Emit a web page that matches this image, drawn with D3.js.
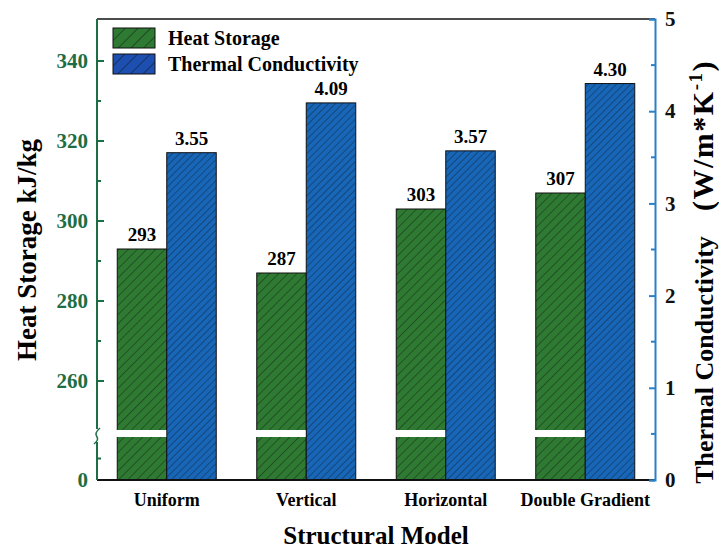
<!DOCTYPE html>
<meta charset="utf-8">
<style>
  body { margin: 0; background: #fff; }
  text { font-family: "Liberation Serif", "Times New Roman", serif; font-weight: bold; }
</style>
<svg width="719" height="550"></svg>
<script src="https://d3js.org/d3.v7.min.js"></script>
<script>

var models = ["Uniform", "Vertical", "Horizontal", "Double Gradient"];
var heatStorage = [293, 287, 303, 307];
var conductivity = [3.55, 4.09, 3.57, 4.30];
var leftTicks = [260, 280, 300, 320, 340];
var leftMinor = [270, 290, 310, 330];
var rightTicks = [0, 1, 2, 3, 4, 5];
var rightMinor = [0.5, 1.5, 2.5, 3.5, 4.5];

var svg = d3.select("svg");
var plotL = 97, plotR = 655, plotT = 19, plotB = 480;
var green = "#2e7a32", blue = "#1766b8";
var greenAxis = "#1d6e44", blueAxis = "#2a80c6";

// patterns
var defs = svg.append("defs");
function hatch(id, color, size, sw) {
  var p = defs.append("pattern").attr("id", id)
    .attr("patternUnits", "userSpaceOnUse")
    .attr("width", size).attr("height", size)
    .attr("patternTransform", "rotate(45)");
  p.append("rect").attr("width", size).attr("height", size).attr("fill", color);
  p.append("line").attr("x1", 0).attr("y1", 0).attr("x2", 0).attr("y2", size)
    .attr("stroke", "#111").attr("stroke-width", sw).attr("stroke-opacity", 0.8);
}
hatch("hG", green, 6.5, 1);
hatch("hB", blue, 5, 0.9);
hatch("lG", green, 9, 1.2);
hatch("lB", "#1c4fb0", 9, 1.2);

var x = d3.scaleBand().domain(models).range([plotL, plotR]);
var barW = 49.5;

// broken left scale: 0 -> bottom, 246 at break, 250..350 linear
var yL = d3.scaleLinear().domain([0, 246, 350]).range([plotB, 437, 21]);
var yR = d3.scaleLinear().domain([0, 5]).range([plotB, plotT]);

// bars
svg.selectAll(".hs").data(heatStorage).enter().append("rect")
  .attr("x", function(d, i) { return x(models[i]) + x.bandwidth() / 2 - barW; })
  .attr("y", function(d) { return yL(d); })
  .attr("width", barW)
  .attr("height", function(d) { return yL(0) - yL(d); })
  .attr("fill", "url(#hG)").attr("stroke", "#111").attr("stroke-width", 1);

svg.selectAll(".tc").data(conductivity).enter().append("rect")
  .attr("x", function(d, i) { return x(models[i]) + x.bandwidth() / 2; })
  .attr("y", function(d) { return yR(d); })
  .attr("width", barW)
  .attr("height", function(d) { return yR(0) - yR(d); })
  .attr("fill", "url(#hB)").attr("stroke", "#111").attr("stroke-width", 1);

// white break band over green bars
svg.selectAll(".brk").data(heatStorage).enter().append("rect")
  .attr("x", function(d, i) { return x(models[i]) + x.bandwidth() / 2 - barW - 3; })
  .attr("y", 430).attr("width", barW + 2.5).attr("height", 7)
  .attr("fill", "#fff");

// value labels
svg.selectAll(".lh").data(heatStorage).enter().append("text")
  .attr("x", function(d, i) { return x(models[i]) + x.bandwidth() / 2 - barW / 2; })
  .attr("y", function(d) { return yL(d) - 8; })
  .attr("text-anchor", "middle").attr("font-size", 19).text(function(d) { return d; });
svg.selectAll(".lc").data(conductivity).enter().append("text")
  .attr("x", function(d, i) { return x(models[i]) + x.bandwidth() / 2 + barW / 2; })
  .attr("y", function(d) { return yR(d) - 8; })
  .attr("text-anchor", "middle").attr("font-size", 19).text(function(d) { return d.toFixed(2); });

// frame top & bottom
svg.append("line").attr("x1", plotL).attr("x2", plotR).attr("y1", plotT).attr("y2", plotT)
  .attr("stroke", "#111").attr("stroke-width", 1.5);
svg.append("line").attr("x1", plotL).attr("x2", plotR).attr("y1", plotB).attr("y2", plotB)
  .attr("stroke", "#111").attr("stroke-width", 2);

// left axis (green, broken)
var la = svg.append("g");
la.append("line").attr("x1", plotL).attr("x2", plotL).attr("y1", plotT).attr("y2", 429)
  .attr("stroke", greenAxis).attr("stroke-width", 2);
la.append("line").attr("x1", plotL).attr("x2", plotL).attr("y1", 442).attr("y2", plotB)
  .attr("stroke", greenAxis).attr("stroke-width", 2);
la.append("path").attr("d", "M" + (plotL - 3) + ",444 q 5,-4 3,-7 q -3,-4 3,-9")
  .attr("fill", "none").attr("stroke", greenAxis).attr("stroke-width", 1.5);
la.selectAll(".mj").data(leftTicks).enter().append("line")
  .attr("x1", plotL).attr("x2", plotL + 7)
  .attr("y1", function(d) { return yL(d); }).attr("y2", function(d) { return yL(d); })
  .attr("stroke", greenAxis).attr("stroke-width", 2);
la.selectAll(".mn").data(leftMinor).enter().append("line")
  .attr("x1", plotL).attr("x2", plotL + 4)
  .attr("y1", function(d) { return yL(d); }).attr("y2", function(d) { return yL(d); })
  .attr("stroke", greenAxis).attr("stroke-width", 2);
la.append("line").attr("x1", plotL).attr("x2", plotL + 4).attr("y1", yL(123)).attr("y2", yL(123))
  .attr("stroke", greenAxis).attr("stroke-width", 2);
la.selectAll(".tl").data(leftTicks.concat([0])).enter().append("text")
  .attr("x", plotL - 9).attr("y", function(d) { return yL(d) + 7; })
  .attr("text-anchor", "end").attr("font-size", 21).attr("fill", greenAxis)
  .text(function(d) { return d; });

// right axis (blue)
var ra = svg.append("g").attr("transform", "translate(" + plotR + ",0)");
ra.call(d3.axisRight(yR).tickValues(rightTicks).tickSize(-6).tickPadding(10).tickFormat(d3.format("d")));
ra.selectAll(".mn").data(rightMinor).enter().append("line")
  .attr("x1", 0).attr("x2", -4)
  .attr("y1", function(d) { return yR(d); }).attr("y2", function(d) { return yR(d); })
  .attr("stroke", blueAxis).attr("stroke-width", 2);
ra.select(".domain").attr("stroke", blueAxis).attr("stroke-width", 2);
ra.selectAll(".tick line").attr("stroke", blueAxis).attr("stroke-width", 2);
ra.selectAll(".tick text").attr("font-size", 21).attr("fill", "#111")
  .attr("font-family", "Liberation Serif, serif").attr("font-weight", "bold");

// x axis labels
svg.selectAll(".xl").data(models).enter().append("text")
  .attr("x", function(d) { return x(d) + x.bandwidth() / 2; })
  .attr("y", 506).attr("text-anchor", "middle").attr("font-size", 18)
  .text(function(d) { return d; });

// axis titles
svg.append("text").attr("x", 376).attr("y", 544).attr("text-anchor", "middle")
  .attr("font-size", 25).text("Structural Model");
svg.append("text").attr("transform", "translate(36,250) rotate(-90)")
  .attr("text-anchor", "middle").attr("font-size", 27).text("Heat Storage kJ/kg");
svg.append("text").attr("transform", "translate(713,360) rotate(-90)")
  .attr("text-anchor", "middle").attr("font-size", 26).text("Thermal Conductivity");
var rt = svg.append("text").attr("transform", "translate(713,211) rotate(-90)")
  .attr("font-size", 30).attr("letter-spacing", 1.5);
rt.append("tspan").text("(W/m*K");
rt.append("tspan").attr("dy", -11).attr("font-size", 19).text("-1");
rt.append("tspan").attr("dy", 11).text(")");

// legend
var lg = svg.append("g");
lg.append("rect").attr("x", 113).attr("y", 28).attr("width", 42).attr("height", 20)
  .attr("fill", "url(#lG)").attr("stroke", "#111").attr("stroke-width", 1);
lg.append("rect").attr("x", 113).attr("y", 54).attr("width", 42).attr("height", 20)
  .attr("fill", "url(#lB)").attr("stroke", "#111").attr("stroke-width", 1);
lg.append("text").attr("x", 168).attr("y", 45).attr("font-size", 20).text("Heat Storage");
lg.append("text").attr("x", 168).attr("y", 71).attr("font-size", 20).text("Thermal Conductivity");

</script>
